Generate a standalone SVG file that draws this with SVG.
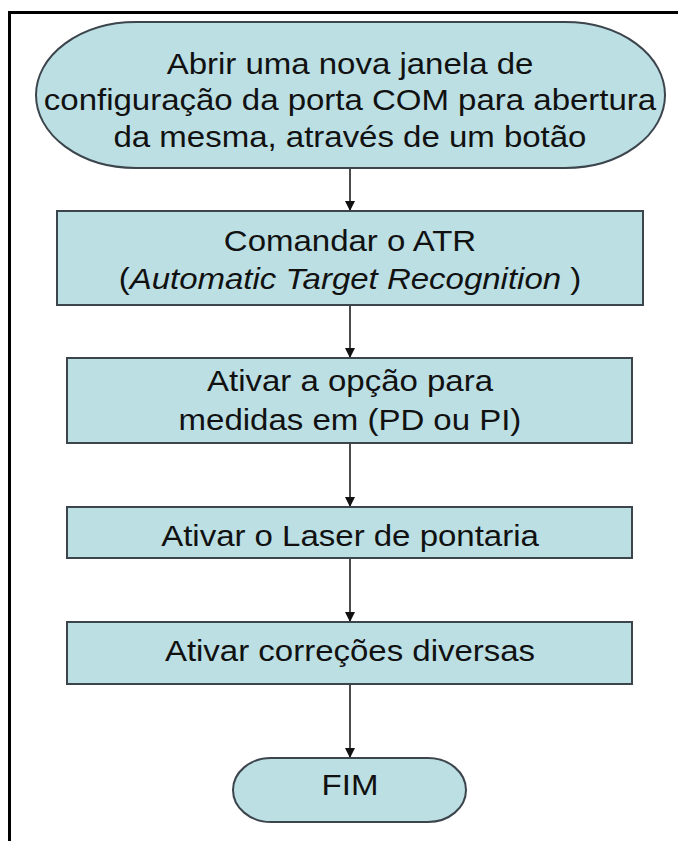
<svg xmlns="http://www.w3.org/2000/svg" width="678" height="841" viewBox="0 0 678 841">
<defs>
<style>
.shape{fill:#bbdfe3;stroke:#3c444c;stroke-width:2}
.t{font-family:"Liberation Sans",Arial,sans-serif;font-size:30px;fill:#111;text-anchor:middle}
.conn{stroke:#111;stroke-width:1.5;fill:none}
</style>
<marker id="ah" viewBox="0 0 10 12" refX="10" refY="6" markerWidth="10" markerHeight="12" markerUnits="userSpaceOnUse" orient="auto">
<path d="M0,1 L10,6 L0,11 Z" fill="#111"/>
</marker>
</defs>
<rect width="678" height="841" fill="#fff"/>
<g id="frame">
<line x1="8" y1="12.5" x2="678" y2="12.5" stroke="#000" stroke-width="3"/>
<line x1="9.5" y1="11" x2="9.5" y2="841" stroke="#000" stroke-width="3"/>
</g>
<g id="connectors">
<line class="conn" x1="350" y1="168" x2="350" y2="211" marker-end="url(#ah)"/>
<line class="conn" x1="350" y1="305" x2="350" y2="358" marker-end="url(#ah)"/>
<line class="conn" x1="350" y1="443" x2="350" y2="507" marker-end="url(#ah)"/>
<line class="conn" x1="350" y1="558" x2="350" y2="622" marker-end="url(#ah)"/>
<line class="conn" x1="350" y1="684" x2="350" y2="758" marker-end="url(#ah)"/>
</g>
<g id="start">
<rect class="shape" x="36" y="22" width="629" height="146" rx="100" ry="73"/>
<g transform="matrix(1.1 0 0 1 -35 0)">
<text class="t" x="350" y="74">Abrir uma nova janela de</text>
<text class="t" x="350" y="110">configuração da porta COM para abertura</text>
<text class="t" x="350" y="147">da mesma, através de um botão</text>
</g>
</g>
<g id="atr">
<rect class="shape" x="57" y="211" width="586" height="94"/>
<g transform="matrix(1.1 0 0 1 -35 0)">
<text class="t" x="350" y="251">Comandar o ATR</text>
<text class="t" x="350" y="289">(<tspan font-style="italic">Automatic Target Recognition</tspan> )</text>
</g>
</g>
<g id="medidas">
<rect class="shape" x="67" y="358" width="565" height="85"/>
<g transform="matrix(1.1 0 0 1 -35 0)">
<text class="t" x="350" y="391">Ativar a opção para</text>
<text class="t" x="350" y="430">medidas em (PD ou PI)</text>
</g>
</g>
<g id="laser">
<rect class="shape" x="67" y="507" width="565" height="51"/>
<g transform="matrix(1.1 0 0 1 -35 0)">
<text class="t" x="350" y="546">Ativar o Laser de pontaria</text>
</g>
</g>
<g id="correcoes">
<rect class="shape" x="67" y="622" width="565" height="62"/>
<g transform="matrix(1.1 0 0 1 -35 0)">
<text class="t" x="350" y="661">Ativar correções diversas</text>
</g>
</g>
<g id="fim">
<rect class="shape" x="233" y="758" width="233" height="64" rx="38" ry="32"/>
<g transform="matrix(1.1 0 0 1 -35 0)">
<text class="t" x="350" y="795">FIM</text>
</g>
</g>
</svg>
